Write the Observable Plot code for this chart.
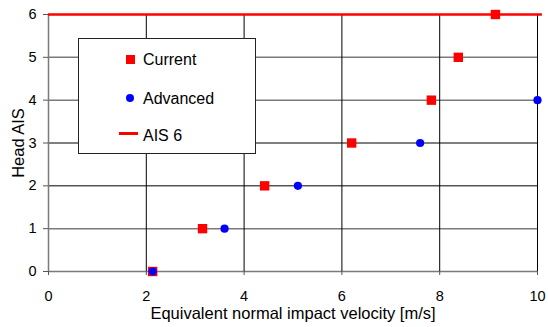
<!DOCTYPE html>
<html>
<head>
<meta charset="utf-8">
<script src="https://cdn.jsdelivr.net/npm/d3@7"></script>
<script src="https://cdn.jsdelivr.net/npm/@observablehq/plot@0.6"></script>
<style>
  body { margin: 0; background: #fff; }
  #wrap { position: relative; width: 548px; height: 327px; font-family: "Liberation Sans", Arial, sans-serif; }
  #legend { position: absolute; left: 78px; top: 38px; width: 176px; height: 114px; border: 1px solid #222; background: #fff; box-sizing: content-box; }
  .item { position: absolute; left: 64px; font-size: 16px; color: #000; line-height: 16px; }
  .sym { position: absolute; }
</style>
</head>
<body>
<div id="wrap"></div>
<script>
const currentX = [2.13, 3.15, 4.42, 6.2, 7.83, 8.38, 9.14];
const currentY = [0, 1, 2, 3, 4, 5, 6];
const advancedX = [2.13, 3.6, 5.1, 7.6, 10.0];
const advancedY = [0, 1, 2, 3, 4];
const ais6 = 6;
const xTicks = [0, 2, 4, 6, 8, 10];
const yTicks = [0, 1, 2, 3, 4, 5, 6];
const seriesNames = ["Current", "Advanced", "AIS 6"];

const current = currentX.map((x, i) => ({x, y: currentY[i]}));
const advanced = advancedX.map((x, i) => ({x, y: advancedY[i]}));
const grayLines = [0, 1, 4, 5];
const blackLines = [2, 3];

const chart = Plot.plot({
  width: 548,
  height: 327,
  marginLeft: 48,
  marginRight: 11,
  marginTop: 14,
  marginBottom: 56,
  style: {fontFamily: "Liberation Sans, Arial, sans-serif", background: "white", overflow: "visible"},
  x: {domain: [0, 10]},
  y: {domain: [0, 6]},
  marks: [
    Plot.ruleY(grayLines, {stroke: "#7a7a7a", strokeWidth: 1.5}),
    Plot.ruleY(blackLines, {stroke: "#000", strokeWidth: 1}),
    Plot.ruleX(xTicks.filter(d => d > 0), {stroke: "#000", strokeWidth: 1}),
    Plot.ruleX([0], {stroke: "#7a7a7a", strokeWidth: 1.5}),
    Plot.ruleY([ais6], {stroke: "#ff0000", strokeWidth: 2.5, x1: 0, x2: 10.1}),
    Plot.axisX({ticks: xTicks, tickFormat: d3.format("d"), tickSize: 4, tickPadding: 15, fontSize: 14.5, label: null, stroke: "#555"}),
    Plot.axisY({ticks: yTicks, tickFormat: d3.format("d"), tickSize: 5, tickPadding: 7, fontSize: 14.5, label: null, stroke: "#555"}),
    Plot.dot(current, {x: "x", y: "y", symbol: "square", r: 5.3, fill: "#ff0000", stroke: "none"}),
    Plot.dot(advanced, {x: "x", y: "y", symbol: "circle", r: 4.1, fill: "#0000ff", stroke: "none"}),
    Plot.text(["Equivalent normal impact velocity [m/s]"], {frameAnchor: "bottom", dy: 47, fontSize: 16.5, fill: "#000"}),
    Plot.text(["Head AIS"], {frameAnchor: "left", textAnchor: "middle", dx: -30, rotate: -90, fontSize: 16.5, fill: "#000"})
  ]
});

const wrap = document.getElementById("wrap");
wrap.appendChild(chart);

const legend = document.createElement("div");
legend.id = "legend";
legend.innerHTML = `
  <div class="sym" style="left:47px;top:16px;width:9px;height:9px;background:#ff0000"></div>
  <div class="item" style="top:13px">${seriesNames[0]}</div>
  <div class="sym" style="left:47px;top:55px;width:8px;height:8px;border-radius:50%;background:#0000ff"></div>
  <div class="item" style="top:52px">${seriesNames[1]}</div>
  <div class="sym" style="left:40px;top:93px;width:19px;height:2.5px;background:#ff0000"></div>
  <div class="item" style="top:89px">${seriesNames[2]}</div>
`;
wrap.appendChild(legend);
</script>
</body>
</html>
